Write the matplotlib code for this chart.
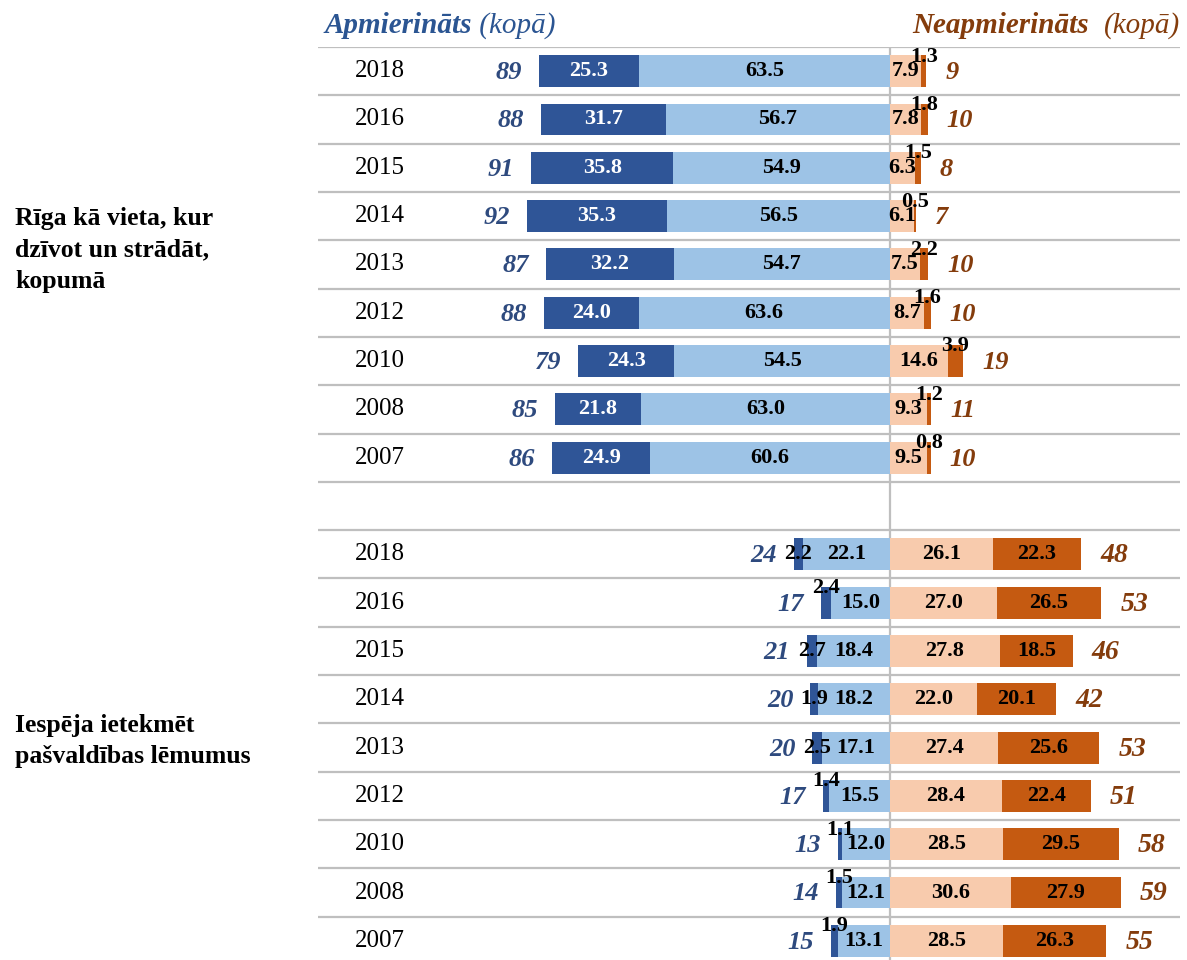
import matplotlib
matplotlib.use("Agg")
import matplotlib.pyplot as plt
import matplotlib.transforms as mtransforms
import numpy as np

plt.rcParams['font.family'] = ['Liberation Serif', 'DejaVu Serif']

years = ["2018", "2016", "2015", "2014", "2013", "2012", "2010", "2008", "2007"]
groups = ["Rīga kā vieta, kur\ndzīvot un strādāt,\nkopumā",
          "Iespēja ietekmēt\npašvaldības lēmumus"]

# Rīga as a place to live and work
riga_fully_sat = [25.3, 31.7, 35.8, 35.3, 32.2, 24.0, 24.3, 21.8, 24.9]
riga_rather_sat = [63.5, 56.7, 54.9, 56.5, 54.7, 63.6, 54.5, 63.0, 60.6]
riga_rather_dis = [7.9, 7.8, 6.3, 6.1, 7.5, 8.7, 14.6, 9.3, 9.5]
riga_fully_dis = [1.3, 1.8, 1.5, 0.5, 2.2, 1.6, 3.9, 1.2, 0.8]
riga_total_sat = [89, 88, 91, 92, 87, 88, 79, 85, 86]
riga_total_dis = [9, 10, 8, 7, 10, 10, 19, 11, 10]

# Ability to influence municipal decisions
infl_fully_sat = [2.2, 2.4, 2.7, 1.9, 2.5, 1.4, 1.1, 1.5, 1.9]
infl_rather_sat = [22.1, 15.0, 18.4, 18.2, 17.1, 15.5, 12.0, 12.1, 13.1]
infl_rather_dis = [26.1, 27.0, 27.8, 22.0, 27.4, 28.4, 28.5, 30.6, 28.5]
infl_fully_dis = [22.3, 26.5, 18.5, 20.1, 25.6, 22.4, 29.5, 27.9, 26.3]
infl_total_sat = [24, 17, 21, 20, 20, 17, 13, 14, 15]
infl_total_dis = [48, 53, 46, 42, 53, 51, 58, 59, 55]

# small-value labels that sit raised above their segment
riga_lift_fd = [True] * 9
infl_lift_fs = [False, True, False, False, False, True, True, True, True]

C_FS = "#2F5597"
C_RS = "#9DC3E6"
C_RD = "#F8CBAD"
C_FD = "#C55A11"
C_TOT_S = "#2E4A7E"
C_TOT_D = "#843C0C"
C_HEAD_S = "#2B5592"
GRID = "#BFBFBF"

W, H = 1187, 960
fig = plt.figure(figsize=(W / 100, H / 100), dpi=100)
ax = fig.add_axes([318 / W, (H - 965) / H, 862 / W, 918 / H])
ax.set_xlim(-144.7, 73.4)
ax.set_ylim(18.5, -0.5)
ax.axis("off")

bar_h = 0.66
val_fs = 16
tot_fs = 19

for yy in np.arange(-0.5, 19, 1.0):
    ax.axhline(yy, color=GRID, lw=1.6, zorder=0)
ax.axvline(0, color=GRID, lw=1.6, zorder=0)

year_tf = mtransforms.blended_transform_factory(ax.transAxes, ax.transData)


def seg_label(patch, text, color, lift=False):
    cx = patch.get_x() + patch.get_width() / 2
    cy = patch.get_y() + patch.get_height() / 2
    ax.annotate(text, (cx, cy), xytext=(0, 10.5 if lift else 0), textcoords="offset points",
                ha="center", va="center", fontsize=val_fs, fontweight="bold",
                color=color, zorder=5)


def draw_group(offset, fs, rs, rd, fd, ts, td, lift_fs, lift_fd, fs_txt_color, td_size):
    y = np.arange(len(years)) + offset
    fs, rs, rd, fd = map(np.asarray, (fs, rs, rd, fd))
    b_rs = ax.barh(y, -rs, left=0, height=bar_h, color=C_RS, zorder=2)
    b_fs = ax.barh(y, -fs, left=-rs, height=bar_h, color=C_FS, zorder=2)
    b_rd = ax.barh(y, rd, left=0, height=bar_h, color=C_RD, zorder=2)
    b_fd = ax.barh(y, fd, left=rd, height=bar_h, color=C_FD, zorder=2)
    for i in range(len(years)):
        seg_label(b_rs[i], f"{rs[i]:.1f}", "black")
        seg_label(b_fs[i], f"{fs[i]:.1f}", fs_txt_color, lift_fs[i])
        seg_label(b_rd[i], f"{rd[i]:.1f}", "black")
        seg_label(b_fd[i], f"{fd[i]:.1f}", "black", lift_fd[i])
        ax.text(-(fs[i] + rs[i]) - 4.3, y[i] + 0.03, str(ts[i]), ha="right", va="center",
                fontsize=tot_fs, fontstyle="italic", fontweight="bold", color=C_TOT_S)
        ax.text(rd[i] + fd[i] + 4.8, y[i] + 0.03, str(td[i]), ha="left", va="center",
                fontsize=td_size, fontstyle="italic", fontweight="bold", color=C_TOT_D)
        ax.text(62 / 862, y[i], years[i], transform=year_tf,
                ha="center", va="center", fontsize=18, color="black")


draw_group(0, riga_fully_sat, riga_rather_sat, riga_rather_dis, riga_fully_dis,
           riga_total_sat, riga_total_dis, [False] * 9, riga_lift_fd, "white", 19)
draw_group(10, infl_fully_sat, infl_rather_sat, infl_rather_dis, infl_fully_dis,
           infl_total_sat, infl_total_dis, infl_lift_fs, [False] * 9, "black", 20)

# group captions
fig.text(15 / W, 1 - 250 / H, groups[0], ha="left", va="center", fontsize=18.5,
         fontweight="bold", linespacing=1.45)
fig.text(15 / W, 1 - 741 / H, groups[1], ha="left", va="center", fontsize=18.5,
         fontweight="bold", linespacing=1.45)

# column headers
h1 = fig.text(325 / W, 1 - 33 / H, "Apmierināts", ha="left", va="baseline",
              fontsize=21, fontstyle="italic", fontweight="bold", color=C_HEAD_S)
ax.annotate(" (kopā)", xy=(1, 0), xycoords=h1, va="bottom", ha="left", fontsize=21,
            fontstyle="italic", color=C_HEAD_S, annotation_clip=False)

h2 = fig.text(1180 / W, 1 - 33 / H, "(kopā)", ha="right", va="baseline",
              fontsize=21, fontstyle="italic", color=C_TOT_D)
ax.annotate("Neapmierināts  ", xy=(0, 0), xycoords=h2, va="bottom", ha="right",
            fontsize=21, fontstyle="italic", fontweight="bold", color=C_TOT_D,
            annotation_clip=False)

fig.savefig("out.png", dpi=100)
